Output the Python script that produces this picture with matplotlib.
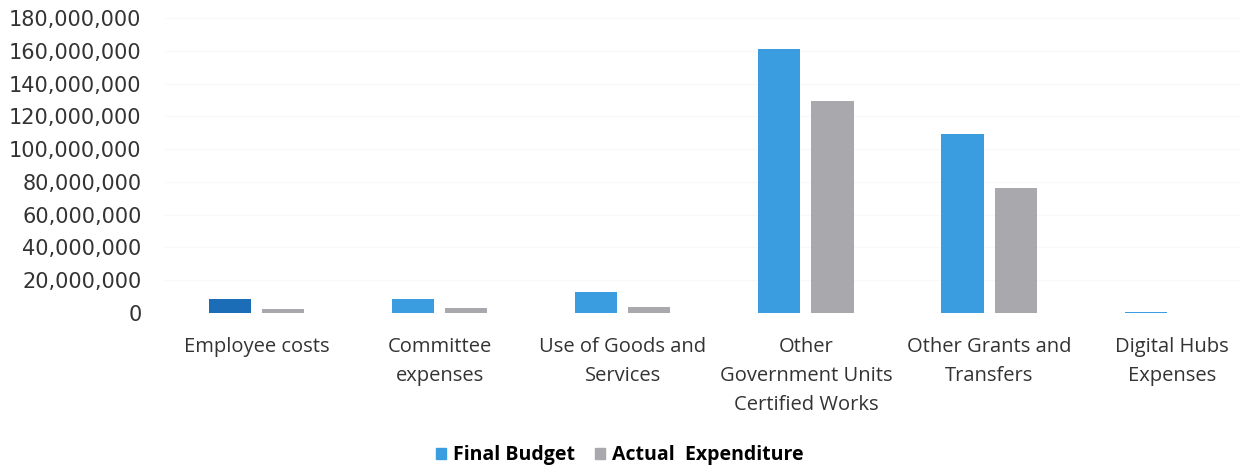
import numpy as np
import matplotlib.pyplot as plt
from matplotlib.patches import Patch
from matplotlib.ticker import FuncFormatter

categories = ["Employee costs", "Committee\nexpenses", "Use of Goods and\nServices",
              "Other\nGovernment Units\nCertified Works", "Other Grants and\nTransfers",
              "Digital Hubs\nExpenses"]
final_budget = [8.5e6, 8.4e6, 12.6e6, 161e6, 109e6, 0.5e6]
actual_exp = [2.4e6, 3.3e6, 3.8e6, 129.3e6, 76e6, 0]

blue = '#3a9de0'
dark_blue = '#1c6db8'
gray = '#a8a8ad'

plt.rcParams['font.family'] = ['Open Sans', 'DejaVu Sans']

fig = plt.figure(figsize=(12.4, 4.7), dpi=100)
ax = fig.add_axes([165/1240, 1-313/470, (1240-165)/1240, 295/470])

x = np.arange(len(categories))
w = 0.23
gap = 0.06
colors = [dark_blue] + [blue]*(len(categories)-1)
ax.bar(x - (w+gap)/2, final_budget, w, color=colors, zorder=2)
ax.bar(x + (w+gap)/2, actual_exp, w, color=gray, zorder=2)

ax.set_ylim(0, 180e6)
ax.set_xlim(-0.5, 5.37)
ax.set_yticks(np.arange(0, 180e6+1, 20e6))
ax.yaxis.set_major_formatter(FuncFormatter(lambda v, p: f"{int(v):,}"))
for lbl in ax.get_yticklabels():
    lbl.set_family('DejaVu Sans')
ax.set_xticks(x)
ax.set_xticklabels(categories, fontsize=14.5, color='#333333', linespacing=1.62, va='top')
ax.tick_params(axis='y', labelsize=15, colors='#333333', length=0, pad=17)
ax.tick_params(axis='x', length=0, pad=17)
ax.grid(axis='y', color='#f8f8f8', linewidth=0.8, zorder=0)
for s in ax.spines.values():
    s.set_visible(False)

handles = [Patch(color=blue, label='Final Budget'), Patch(color=gray, label='Actual  Expenditure')]
fig.legend(handles=handles, loc='center', bbox_to_anchor=(0.5, 1-455/470), ncol=2, frameon=False,
           prop={'weight': 'bold', 'size': 14}, handlelength=0.5, handleheight=0.5,
           handletextpad=0.4, columnspacing=1.0)

plt.savefig('out.png', dpi=100)
